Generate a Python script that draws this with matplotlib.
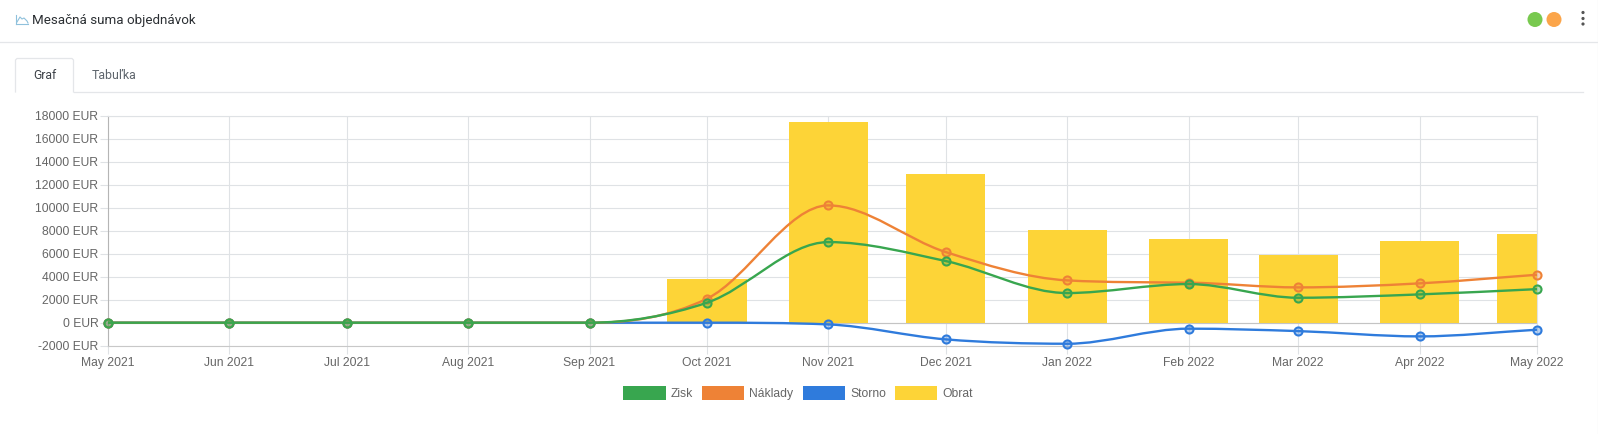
import matplotlib
matplotlib.use("Agg")
import matplotlib.pyplot as plt
import matplotlib.dates as mdates
from matplotlib.path import Path
from matplotlib.patches import PathPatch, Patch, Circle
from matplotlib.transforms import ScaledTranslation
import pandas as pd
import numpy as np

months = ["2021-05-01", "2021-06-01", "2021-07-01", "2021-08-01", "2021-09-01", "2021-10-01", "2021-11-01",
          "2021-12-01", "2022-01-01", "2022-02-01", "2022-03-01", "2022-04-01", "2022-05-01"]
month_labels = ["May 2021", "Jun 2021", "Jul 2021", "Aug 2021", "Sep 2021", "Oct 2021", "Nov 2021",
                "Dec 2021", "Jan 2022", "Feb 2022", "Mar 2022", "Apr 2022", "May 2022"]
zisk = [0, 0, 0, 0, 0, 1740, 7010, 5360, 2580, 3360, 2170, 2460, 2920]
naklady = [0, 0, 0, 0, 0, 2090, 10200, 6140, 3680, 3480, 3070, 3420, 4170]
storno = [0, 0, 0, 0, 0, 0, -150, -1450, -1830, -520, -730, -1190, -610]
obrat = [0, 0, 0, 0, 0, 3770, 17440, 12920, 8050, 7300, 5920, 7070, 7680]
y_ticks = list(range(-2000, 18001, 2000))

W, H = 1598, 435
CHART_FONT = "Liberation Sans"
UI_FONT = "Roboto"
C_ZISK, C_NAKL, C_STORNO, C_OBRAT = "#38a64f", "#ee8236", "#2f7bdc", "#fdd437"
GRID = "#dfe2e5"

fig = plt.figure(figsize=(W / 100, H / 100), dpi=100, facecolor="white")

# page chrome, drawn in pixel coordinates
bg = fig.add_axes([0, 0, 1, 1], zorder=0)
bg.set_xlim(0, W)
bg.set_ylim(H, 0)
bg.axis("off")
LINE = "#e4e6e9"
bg.plot([0, W], [43, 43], color=LINE, lw=0.9)
bg.plot([W - 0.5, W - 0.5], [0, H], color="#eeeeee", lw=0.9)
bg.plot([74, 1583], [93, 93], color=LINE, lw=0.9)
bg.plot([15.5, 15.5, 17, 72, 73.5, 73.5], [93, 61, 59.5, 59.5, 61, 93], color=LINE, lw=0.9)
bg.plot([15.5, 28], [25, 25], color="#8fc1dc", lw=0.8)
bg.plot([15.5, 15.5], [16, 25], color="#8fc1dc", lw=0.8)
bg.plot([17, 20, 22, 24, 27, 28], [23, 18, 20, 19, 22, 24], color="#8fc1dc", lw=0.8)
bg.text(32, 20.5, "Mesačná suma objednávok", family=UI_FONT, fontsize=9.6, color="#2b2f33",
        va="center", ha="left")
bg.text(45, 75.5, "Graf", family=UI_FONT, fontsize=8.7, color="#3b4046", va="center", ha="center")
bg.text(114.5, 75.5, "Tabuľka", family=UI_FONT, fontsize=8.9, color="#5f666d", va="center", ha="center")
bg.add_patch(Circle((1535, 20.5), 7.5, color="#78c94f", lw=0))
bg.add_patch(Circle((1554, 20.5), 7.5, color="#fba54a", lw=0))
for yy in (13.5, 19.5, 25):
    bg.add_patch(Circle((1583, yy), 1.6, color="#555555", lw=0))

# chart
ax = fig.add_axes([108 / W, 1 - 346.7 / H, (1537 - 108) / W, 230 / H], zorder=1)
ax.patch.set_alpha(0)
x = mdates.date2num(pd.to_datetime(months))
ax.set_xlim(x[0], x[-1])
ax.set_ylim(-2000, 18000)

ax.bar(x, obrat, width=20.2, color=C_OBRAT, zorder=2, linewidth=0)


def monotone_path(xs, ys):
    """Monotone cubic (Fritsch-Carlson) Bezier path through the points."""
    xs = np.asarray(xs, float)
    ys = np.asarray(ys, float)
    dx = np.diff(xs)
    delta = np.diff(ys) / dx
    m = np.zeros(len(xs))
    m[0], m[-1] = delta[0], delta[-1]
    for i in range(1, len(xs) - 1):
        m[i] = 0.0 if delta[i - 1] * delta[i] <= 0 else (delta[i - 1] + delta[i]) / 2
    for i in range(len(dx)):
        if delta[i] == 0:
            m[i] = m[i + 1] = 0.0
            continue
        a, b = m[i] / delta[i], m[i + 1] / delta[i]
        s = a * a + b * b
        if s > 9:
            t = 3 / np.sqrt(s)
            m[i] = a * t * delta[i]
            m[i + 1] = b * t * delta[i]
    verts = [(xs[0], ys[0])]
    codes = [Path.MOVETO]
    for i in range(len(dx)):
        h = dx[i] / 3
        verts += [(xs[i] + h, ys[i] + m[i] * h), (xs[i + 1] - h, ys[i + 1] - m[i + 1] * h), (xs[i + 1], ys[i + 1])]
        codes += [Path.CURVE4] * 3
    return Path(verts, codes)


for vals, col, z in ((storno, C_STORNO, 3), (naklady, C_NAKL, 4), (zisk, C_ZISK, 5)):
    ax.add_patch(PathPatch(monotone_path(x, vals), fill=False, edgecolor=col, lw=1.7, zorder=z, clip_on=False))
    ax.plot(x, vals, ls="none", marker="o", ms=5.8, mfc=matplotlib.colors.to_rgba(col, 0.35),
            mec=col, mew=1.5, zorder=z, clip_on=False)

ax.set_xticks(x)
ax.set_xticklabels(month_labels)
ax.set_yticks(y_ticks)
ax.set_yticklabels([f"{v} EUR" for v in y_ticks])
ax.grid(True, color=GRID, lw=0.8, zorder=1)
ax.set_axisbelow(True)
ax.tick_params(axis="both", length=6, width=0.8, color=GRID, labelcolor="#666666", labelsize=8.7)
ax.tick_params(axis="x", pad=1.3)
ax.tick_params(axis="y", pad=1.0)
for lab in ax.get_xticklabels() + ax.get_yticklabels():
    lab.set_family(CHART_FONT)
up = ScaledTranslation(0, 1 / 100, fig.dpi_scale_trans)
for lab in ax.get_yticklabels():
    lab.set_transform(lab.get_transform() + up)
for side, sp in ax.spines.items():
    sp.set_color(GRID)
    sp.set_linewidth(0.8)
ax.spines["left"].set_color("#b5b5b5")
ax.spines["bottom"].set_color("#c8c8c8")
ax.axhline(0, color="#c4c4c4", lw=0.8, zorder=1.5)

handles = [Patch(facecolor=C_ZISK, label="Zisk"), Patch(facecolor=C_NAKL, label="Náklady"),
           Patch(facecolor=C_STORNO, label="Storno"), Patch(facecolor=C_OBRAT, label="Obrat")]
leg = fig.legend(handles=handles, loc="center", bbox_to_anchor=(798 / W, 1 - 393 / H), ncols=4, frameon=False,
                 prop={"family": CHART_FONT, "size": 8.7}, labelcolor="#666666", handlelength=3.5,
                 handleheight=1.15, handletextpad=0.42, columnspacing=0.75, borderpad=0, borderaxespad=0)
for p in leg.get_patches():
    p.set_y(-3.07)
    p.set_height(10.08)

fig.savefig("out.png", dpi=100)
